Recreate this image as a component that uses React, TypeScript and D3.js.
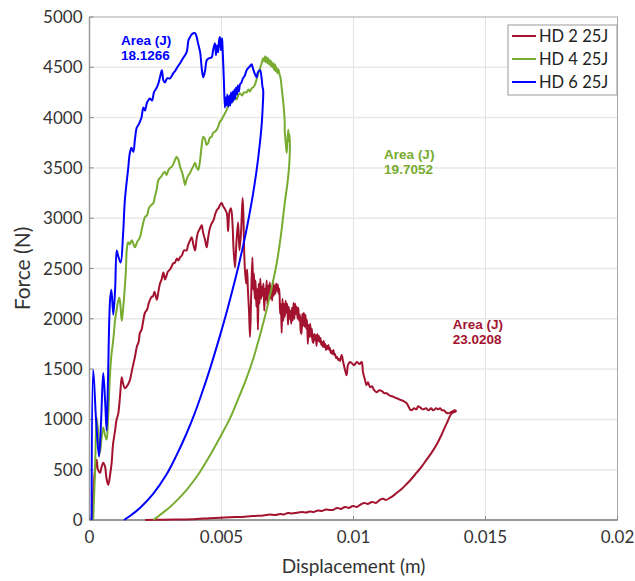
import React from "react";
import * as d3 from "d3";

const xTicks = [0, 0.005, 0.01, 0.015, 0.02];
const xTickLabels = ["0", "0.005", "0.01", "0.015", "0.02"];
const yTicks = [0, 500, 1000, 1500, 2000, 2500, 3000, 3500, 4000, 4500, 5000];

const seriesNames = ["HD 2 25J", "HD 4 25J", "HD 6 25J"];
const areaLabels = ["23.0208", "19.7052", "18.1266"];

// HD 6 25J : [displacement (m), force (N)]
const hd6: [number, number][] = [
  [0.00008, 0], [0.00014, 1490], [0.00025, 990], [0.00036, 630], [0.00044, 990], [0.00052, 1460],
  [0.00059, 1190], [0.00065, 890], [0.0007, 1390], [0.00078, 2190], [0.00083, 2290], [0.0009, 2040],
  [0.00097, 2290], [0.00103, 2680], [0.00108, 2630], [0.00118, 2560], [0.00127, 2830], [0.00134, 3180],
  [0.00146, 3480], [0.00153, 3650], [0.00159, 3700], [0.00166, 3660], [0.00172, 3780], [0.00179, 3900],
  [0.00186, 3930], [0.00191, 3960], [0.00197, 4000], [0.00204, 4100], [0.0021, 4070], [0.00218, 4150],
  [0.00229, 4190], [0.00237, 4170], [0.00244, 4250], [0.00255, 4300], [0.00261, 4340], [0.00267, 4400],
  [0.00274, 4470], [0.0028, 4370], [0.00286, 4350], [0.00294, 4390], [0.00305, 4390], [0.00317, 4440],
  [0.00326, 4470], [0.00335, 4510], [0.00343, 4540], [0.00354, 4590], [0.00368, 4650], [0.00375, 4770],
  [0.00381, 4800], [0.00388, 4830], [0.004, 4840], [0.00405, 4810], [0.00412, 4730], [0.00419, 4650],
  [0.00426, 4470], [0.00431, 4400], [0.00438, 4470], [0.00444, 4570], [0.00453, 4590], [0.00463, 4600],
  [0.00468, 4670], [0.00475, 4740], [0.00479, 4620], [0.00483, 4720], [0.00487, 4650], [0.00491, 4770],
  [0.00494, 4800], [0.00498, 4670], [0.00502, 4790], [0.00504, 4700], [0.00509, 4370], [0.00513, 4100],
  [0.00516, 4200], [0.00519, 4120], [0.00522, 4230], [0.00526, 4110], [0.0053, 4220], [0.00533, 4120],
  [0.00536, 4250], [0.0054, 4150], [0.00543, 4260], [0.00546, 4170], [0.00549, 4280], [0.00552, 4190],
  [0.00555, 4300], [0.00559, 4230], [0.00562, 4320], [0.00566, 4260], [0.0057, 4330], [0.00576, 4350],
  [0.00581, 4390], [0.00587, 4410], [0.00595, 4470], [0.006, 4490], [0.00608, 4510], [0.00614, 4530],
  [0.00619, 4490], [0.00627, 4430], [0.00633, 4400], [0.00638, 4450], [0.00646, 4470], [0.00652, 4390],
  [0.00655, 4310], [0.00658, 4270],
  [0.00656, 4100], [0.00653, 3960], [0.00648, 3810], [0.0064, 3620], [0.00631, 3440], [0.0062, 3250],
  [0.00608, 3070], [0.00595, 2890], [0.00583, 2740], [0.00564, 2520], [0.00545, 2320], [0.00521, 2080],
  [0.00494, 1830], [0.00456, 1500], [0.00423, 1240], [0.00397, 1050], [0.00366, 850], [0.00329, 640],
  [0.00291, 450], [0.00241, 260], [0.00191, 120], [0.00153, 40], [0.00131, 0],
];

// HD 4 25J
const hd4: [number, number][] = [
  [0.00014, 0], [0.00021, 500], [0.00027, 1020], [0.00032, 890], [0.0004, 670], [0.00045, 800],
  [0.00052, 920], [0.00059, 840], [0.00065, 800], [0.0007, 990], [0.00078, 1460], [0.00083, 1640],
  [0.0009, 1790], [0.00097, 1990], [0.00103, 2090], [0.00108, 2170], [0.00113, 2210], [0.00117, 2140],
  [0.00122, 1980], [0.00127, 2090], [0.00134, 2320], [0.00138, 2490], [0.00141, 2680], [0.00146, 2760],
  [0.00152, 2740], [0.0016, 2780], [0.00167, 2740], [0.00172, 2710], [0.0018, 2760], [0.00191, 2810],
  [0.00199, 2900], [0.0021, 3010], [0.00218, 3030], [0.00225, 3100], [0.00233, 3130], [0.00242, 3150],
  [0.00248, 3220], [0.00254, 3280], [0.00261, 3380], [0.00267, 3400], [0.00273, 3420], [0.0028, 3450],
  [0.00286, 3460], [0.00292, 3430], [0.00299, 3480], [0.00305, 3500], [0.00311, 3510], [0.00318, 3540],
  [0.00324, 3580], [0.0033, 3610], [0.00337, 3580], [0.00343, 3510], [0.0035, 3460], [0.00356, 3400],
  [0.00362, 3330], [0.00367, 3380], [0.00373, 3420], [0.00381, 3450], [0.00386, 3480], [0.00392, 3510],
  [0.004, 3550], [0.00405, 3510], [0.00412, 3480], [0.00419, 3580], [0.00424, 3700], [0.00431, 3810],
  [0.00438, 3780], [0.00443, 3730], [0.0045, 3750], [0.00456, 3800], [0.00463, 3810], [0.00468, 3850],
  [0.00475, 3860], [0.00482, 3880], [0.00489, 3920], [0.00494, 3960], [0.00501, 3980], [0.00506, 4010],
  [0.00513, 4040], [0.0052, 4080], [0.00527, 4120], [0.00532, 4140], [0.00538, 4150], [0.00545, 4170],
  [0.00551, 4200], [0.00557, 4180], [0.00563, 4220], [0.0057, 4240], [0.00578, 4220], [0.00585, 4250],
  [0.00595, 4250], [0.00602, 4280], [0.00608, 4260], [0.00614, 4290], [0.0062, 4300], [0.00627, 4330],
  [0.00633, 4380], [0.00639, 4440], [0.00646, 4490], [0.00652, 4540], [0.00658, 4590], [0.00662, 4560],
  [0.00665, 4610], [0.00668, 4550], [0.00671, 4600], [0.00674, 4540], [0.00677, 4590], [0.0068, 4530],
  [0.00684, 4570], [0.00687, 4510], [0.00689, 4560], [0.00693, 4500], [0.00696, 4540], [0.007, 4470],
  [0.00703, 4530], [0.00706, 4460], [0.00708, 4500], [0.00712, 4440], [0.00715, 4480], [0.0072, 4430],
  [0.00724, 4390], [0.00727, 4320], [0.00734, 4150], [0.00739, 3980], [0.0074, 3850], [0.00744, 3730],
  [0.00747, 3650], [0.0075, 3780], [0.00753, 3880], [0.00756, 3760], [0.00758, 3830], [0.00759, 3710],
  [0.00758, 3600], [0.00755, 3480], [0.0075, 3350], [0.0074, 3160], [0.00725, 2830], [0.00709, 2550],
  [0.00691, 2320], [0.00671, 2090], [0.00646, 1840], [0.0062, 1600], [0.00589, 1370], [0.00558, 1170],
  [0.00532, 1010], [0.00494, 820], [0.00456, 640], [0.00419, 480], [0.00392, 380], [0.00368, 300],
  [0.00335, 205], [0.00305, 130], [0.00267, 50], [0.00242, 0],
];

// HD 2 25J
const hd2: [number, number][] = [
  [0.00008, 0], [0.00015, 300], [0.00021, 500], [0.00027, 600], [0.00032, 500], [0.0004, 470],
  [0.00045, 520], [0.00052, 570], [0.00059, 530], [0.00064, 420], [0.00071, 350], [0.00078, 450],
  [0.00084, 570], [0.00089, 750], [0.00097, 890], [0.00102, 990], [0.00109, 1060], [0.00116, 1240],
  [0.00122, 1420], [0.00127, 1360], [0.00134, 1310], [0.00142, 1330], [0.00153, 1390], [0.00161, 1490],
  [0.00172, 1620], [0.0018, 1730], [0.00186, 1770], [0.00191, 1860], [0.00197, 1890], [0.00203, 1970],
  [0.0021, 2060], [0.00218, 2090], [0.00225, 2160], [0.00236, 2220], [0.0024, 2220], [0.00246, 2270],
  [0.00255, 2190], [0.00261, 2270], [0.00267, 2350], [0.00273, 2390], [0.0028, 2460], [0.00286, 2390],
  [0.00292, 2430], [0.00297, 2470], [0.00305, 2490], [0.00311, 2520], [0.00317, 2550], [0.00324, 2560],
  [0.00331, 2600], [0.00337, 2580], [0.00343, 2610], [0.0035, 2630], [0.00358, 2680], [0.00368, 2680],
  [0.00373, 2730], [0.00381, 2780], [0.00387, 2810], [0.00394, 2730], [0.004, 2680], [0.00405, 2780],
  [0.00411, 2860], [0.00419, 2900], [0.00425, 2930], [0.0043, 2860], [0.00438, 2780], [0.00444, 2710],
  [0.00449, 2800], [0.00456, 2900], [0.00463, 2950], [0.0047, 2980], [0.00475, 3030], [0.00482, 3080],
  [0.00489, 3100], [0.00494, 3130], [0.00501, 3150], [0.00506, 3120], [0.00511, 3100], [0.0052, 3050],
  [0.00525, 2870], [0.0053, 3060], [0.00536, 3100], [0.00542, 2930], [0.00545, 2730], [0.00551, 2510],
  [0.00557, 2780], [0.00563, 2960], [0.00568, 2680], [0.00574, 2860], [0.0058, 3200], [0.00583, 3030],
  [0.00587, 2580], [0.00593, 2350], [0.00597, 2490], [0.006, 2290], [0.00604, 2090], [0.00608, 1820],
  [0.00612, 2190], [0.00617, 2610], [0.0062, 2290], [0.00623, 2450], [0.00626, 2200], [0.00629, 2380],
  [0.00632, 2120], [0.00635, 2300], [0.00638, 1890], [0.00641, 2350], [0.00644, 2150], [0.00647, 2400],
  [0.0065, 2200], [0.00653, 2320], [0.00656, 2230], [0.00659, 2350], [0.00662, 2080], [0.00665, 2300],
  [0.00668, 2190], [0.00671, 2380], [0.00674, 2140], [0.00677, 2330], [0.0068, 2250], [0.00683, 2360],
  [0.00686, 2200], [0.00689, 2320], [0.00692, 2180], [0.00695, 2380], [0.00698, 2230], [0.00701, 2330],
  [0.00704, 2250], [0.00707, 2350], [0.0071, 2280], [0.00713, 2340], [0.00716, 2250], [0.00719, 2300],
  [0.00722, 2050], [0.00725, 2150], [0.00728, 1860], [0.00731, 2200], [0.00734, 1980], [0.00737, 2150],
  [0.0074, 2020], [0.00743, 2180], [0.00746, 2060], [0.00749, 2150], [0.00752, 1940], [0.00755, 2120],
  [0.00758, 2000], [0.00761, 2080], [0.00764, 1950], [0.00767, 2110], [0.0077, 1980], [0.00773, 2160],
  [0.00776, 2000], [0.00779, 2150], [0.00782, 2050], [0.00785, 2120], [0.00788, 2000], [0.00791, 2110],
  [0.00794, 1980], [0.00797, 2040], [0.008, 1880], [0.00803, 1850], [0.00806, 2050], [0.00809, 1930],
  [0.00812, 2060], [0.00815, 1920], [0.00818, 2040], [0.00821, 1900], [0.00824, 1990], [0.00827, 1750],
  [0.0083, 1940], [0.00833, 1820], [0.00836, 1950], [0.00839, 1820], [0.00842, 1900], [0.00845, 1780],
  [0.00848, 1760], [0.00851, 1850], [0.00854, 1790], [0.00857, 1840], [0.0086, 1730], [0.00863, 1850],
  [0.00866, 1780], [0.00869, 1830], [0.00872, 1770], [0.00875, 1810], [0.00878, 1740], [0.00881, 1770],
  [0.00884, 1720], [0.00887, 1780], [0.0089, 1720], [0.00893, 1750], [0.00896, 1690], [0.00899, 1730],
  [0.00902, 1700], [0.00905, 1740], [0.00908, 1690], [0.00911, 1710], [0.00914, 1660], [0.00917, 1680],
  [0.0092, 1650], [0.00924, 1690], [0.00927, 1640], [0.0093, 1650], [0.00934, 1610], [0.00938, 1620],
  [0.00942, 1590], [0.00946, 1600], [0.00949, 1580], [0.00955, 1640], [0.00961, 1570],
  [0.00968, 1490], [0.00974, 1440], [0.00979, 1540], [0.00987, 1570], [0.00993, 1560], [0.01002, 1540],
  [0.01013, 1570], [0.01023, 1550], [0.01031, 1570], [0.01036, 1470], [0.01044, 1390], [0.01049, 1340],
  [0.01055, 1370], [0.01063, 1320], [0.0107, 1330], [0.01078, 1290], [0.01088, 1270], [0.01097, 1290],
  [0.01108, 1280], [0.01117, 1260], [0.01126, 1260], [0.01135, 1240], [0.01146, 1230], [0.01155, 1220],
  [0.01164, 1210], [0.01172, 1200], [0.01182, 1190], [0.01191, 1180], [0.01202, 1160], [0.01208, 1130],
  [0.01214, 1100], [0.0122, 1090], [0.01229, 1110], [0.01239, 1100], [0.01244, 1130], [0.01252, 1120],
  [0.01263, 1100], [0.01275, 1110], [0.01284, 1090], [0.01294, 1110], [0.01302, 1090], [0.01313, 1110],
  [0.0132, 1100], [0.01328, 1110], [0.01335, 1090], [0.01343, 1090], [0.0135, 1070], [0.01359, 1060],
  [0.01367, 1070], [0.01375, 1080], [0.01383, 1090], [0.01388, 1080],
  [0.01372, 1060], [0.01353, 960], [0.01334, 850], [0.01315, 750], [0.01296, 670], [0.01277, 600],
  [0.01258, 530], [0.01239, 470], [0.0122, 410], [0.01202, 360], [0.01183, 310], [0.01164, 270],
  [0.0115, 240], [0.01138, 220], [0.01123, 200], [0.01112, 210], [0.011, 200], [0.01085, 170],
  [0.0107, 180], [0.01055, 160], [0.0104, 170], [0.01025, 150], [0.01012, 130], [0.00998, 140],
  [0.00983, 120], [0.00968, 130], [0.00953, 110], [0.00938, 120], [0.00922, 100], [0.00911, 100],
  [0.00896, 105], [0.00881, 90], [0.00866, 95], [0.0085, 80], [0.00835, 85], [0.0082, 75],
  [0.00805, 80], [0.00785, 73], [0.00767, 65], [0.00752, 70], [0.00737, 55], [0.00722, 60],
  [0.00703, 50], [0.00684, 55], [0.00658, 45], [0.00627, 40], [0.00597, 35], [0.00571, 30],
  [0.00532, 28], [0.00494, 22], [0.00456, 18], [0.00406, 10], [0.00343, 5], [0.0028, 3], [0.00211, 0],
];

const colors = ["#a3132f", "#77ac30", "#0000ff"];
const areaPos: [number, number][] = [[0.01376, 1900], [0.01116, 3590], [0.00119, 4720]];

export default function App() {
  const W = 635, H = 581;
  const L = 89.5, R = 617.5, T = 17, B = 520;
  const x = d3.scaleLinear().domain([0, 0.02]).range([L, R]);
  const y = d3.scaleLinear().domain([0, 5000]).range([B, T]);
  const line = d3
    .line<[number, number]>()
    .x((d) => x(d[0]))
    .y((d) => y(d[1]))
    .curve(d3.curveCatmullRom.alpha(0.5));
  const data = [hd2, hd4, hd6];
  const tickFont = "Lato, 'Open Sans', sans-serif";
  return (
    <svg width={W} height={H} style={{ position: "absolute", left: 0, top: 0, background: "#fff" }}>
      <rect x={0} y={0} width={W} height={H} fill="#fff" />
      {xTicks.slice(1, -1).map((t) => (
        <line key={"gx" + t} x1={x(t)} x2={x(t)} y1={T} y2={B} stroke="#e3e3e3" strokeWidth={1} />
      ))}
      {yTicks.slice(1, -1).map((t) => (
        <line key={"gy" + t} x1={L} x2={R} y1={y(t)} y2={y(t)} stroke="#e8e8e8" strokeWidth={1.5} />
      ))}
      <rect x={L} y={T} width={R - L} height={B - T} fill="none" stroke="#a8a8a8" strokeWidth={1} />
      <line x1={L} x2={R} y1={B} y2={B} stroke="#9a9a9a" strokeWidth={2} />
      <line x1={L} x2={L} y1={T} y2={B} stroke="#9a9a9a" strokeWidth={1.5} />
      {xTicks.map((t) => (
        <line key={"tx" + t} x1={x(t)} x2={x(t)} y1={B} y2={B - 4} stroke="#888" />
      ))}
      {yTicks.map((t) => (
        <line key={"ty" + t} x1={L} x2={L + 4} y1={y(t)} y2={y(t)} stroke="#888" />
      ))}
      {data.map((s, i) => (
        <path key={"s" + i} d={line(s) || ""} fill="none" stroke={colors[i]} strokeWidth={2} strokeLinejoin="round" />
      ))}
      {xTicks.map((t, i) => (
        <text key={"lx" + t} x={x(t)} y={B + 23} textAnchor="middle" fontFamily={tickFont} fontSize={17} fill="#333">
          {xTickLabels[i]}
        </text>
      ))}
      {yTicks.map((t) => (
        <text key={"ly" + t} x={L - 7} y={y(t) + 6} textAnchor="end" fontFamily={tickFont} fontSize={17} fill="#333">
          {t}
        </text>
      ))}
      <text x={(L + R) / 2} y={573} textAnchor="middle" fontFamily={tickFont} fontSize={19} fill="#333">
        Displacement (m)
      </text>
      <text transform={`translate(30, ${(T + B) / 2}) rotate(-90)`} textAnchor="middle" fontFamily={tickFont} fontSize={21} fill="#333">
        Force (N)
      </text>
      {areaPos.map((p, i) => (
        <g key={"a" + i} fontFamily="'Liberation Sans', Arial, sans-serif" fontWeight="bold" fontSize={13.5} fill={colors[i]}>
          <text x={x(p[0])} y={y(p[1])}>Area (J)</text>
          <text x={x(p[0])} y={y(p[1]) + 15}>{areaLabels[i]}</text>
        </g>
      ))}
      <g>
        <rect x={508} y={25} width={109} height={70} fill="#fff" stroke="#9a9a9a" strokeWidth={1} />
        {seriesNames.map((n, i) => (
          <g key={"lg" + i} transform={`translate(0, ${36 + i * 23})`}>
            <line x1={512} x2={536} y1={0} y2={0} stroke={colors[i]} strokeWidth={2} />
            <text x={539} y={6} fontFamily={tickFont} fontSize={16.5} fill="#222">{n}</text>
          </g>
        ))}
      </g>
    </svg>
  );
}
